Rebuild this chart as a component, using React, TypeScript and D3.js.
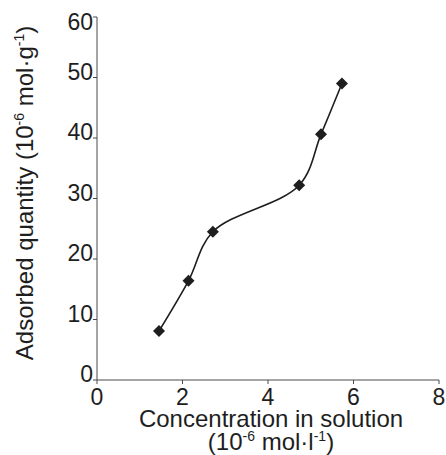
import * as d3 from 'd3';
import { useEffect, useRef } from 'react';

const concentration = [1.45, 2.14, 2.71, 4.73, 5.24, 5.73];
const adsorbed = [8.1, 16.4, 24.5, 32.2, 40.6, 49.0];
const xTicks = [0, 2, 4, 6, 8];
const yTicks = [0, 10, 20, 30, 40, 50, 60];

const W = 446;
const H = 455;
const FONT = '"Liberation Sans", Arial, Helvetica, sans-serif';
const INK = '#1e1e1e';
const AXIS = '#4a4a4a';

export default function App() {
  const svgRef = useRef<SVGSVGElement>(null);

  useEffect(() => {
    if (!svgRef.current) return;
    const svg = d3.select(svgRef.current);
    svg.selectAll('*').remove();

    const x = d3.scaleLinear().domain([0, 8]).range([97, 439]);
    const y = d3.scaleLinear().domain([0, 60]).range([380, 17]);

    const g = svg.append('g').attr('font-family', FONT).attr('fill', INK);

    // Axes
    g.append('line')
      .attr('x1', x(0))
      .attr('x2', x(8))
      .attr('y1', y(0))
      .attr('y2', y(0))
      .attr('stroke', AXIS);
    g.append('line')
      .attr('x1', x(0))
      .attr('x2', x(0))
      .attr('y1', y(0))
      .attr('y2', y(60))
      .attr('stroke', AXIS);

    // x ticks
    const xt = g.selectAll('.xt').data(xTicks).join('g').attr('transform', (d) => `translate(${x(d)},${y(0)})`);
    xt.append('line').attr('y2', 4).attr('stroke', AXIS);
    xt.append('text')
      .attr('y', 25)
      .attr('text-anchor', 'middle')
      .attr('font-size', 23)
      .text((d) => d);

    // y ticks
    const yt = g.selectAll('.yt').data(yTicks).join('g').attr('transform', (d) => `translate(${x(0)},${y(d)})`);
    yt.append('line').attr('x2', -4).attr('stroke', AXIS);
    yt.append('text')
      .attr('x', -4)
      .attr('y', (d) => (d === 60 ? 13 : 2))
      .attr('text-anchor', 'end')
      .attr('font-size', 23)
      .text((d) => d);

    // Curve
    const line = d3
      .line<number>()
      .x((_, i) => x(concentration[i]))
      .y((d) => y(d))
      .curve(d3.curveCatmullRom.alpha(0.5));
    g.append('path')
      .datum(adsorbed)
      .attr('fill', 'none')
      .attr('stroke', INK)
      .attr('stroke-width', 1.6)
      .attr('d', line);

    // Markers
    const diamond = d3.symbol().type(d3.symbolSquare).size(72);
    g.selectAll('.pt')
      .data(adsorbed)
      .join('path')
      .attr('transform', (d, i) => `translate(${x(concentration[i])},${y(d)}) rotate(45)`)
      .attr('d', diamond)
      .attr('fill', INK);

    // x title
    const xTitle = g.append('text').attr('text-anchor', 'middle').attr('font-size', 24);
    xTitle.append('tspan').attr('x', 271).attr('y', 427).text('Concentration in solution');
    const l2 = xTitle.append('tspan').attr('x', 271).attr('y', 450);
    l2.append('tspan').text('(10');
    l2.append('tspan').attr('font-size', 14).attr('dy', -9).text('-6');
    l2.append('tspan').attr('dy', 9).text(' mol·l');
    l2.append('tspan').attr('font-size', 14).attr('dy', -9).text('-1');
    l2.append('tspan').attr('dy', 9).text(')');

    // y title
    const yTitle = g
      .append('text')
      .attr('text-anchor', 'middle')
      .attr('font-size', 24)
      .attr('transform', `translate(33,193) rotate(-90)`);
    yTitle.append('tspan').text('Adsorbed quantity (10');
    yTitle.append('tspan').attr('font-size', 14).attr('dy', -9).text('-6');
    yTitle.append('tspan').attr('dy', 9).text(' mol·g');
    yTitle.append('tspan').attr('font-size', 14).attr('dy', -9).text('-1');
    yTitle.append('tspan').attr('dy', 9).text(')');
  }, []);

  return (
    <svg
      ref={svgRef}
      width={W}
      height={H}
      style={{ position: 'absolute', left: 0, top: 0, display: 'block', background: '#fff' }}
    />
  );
}
